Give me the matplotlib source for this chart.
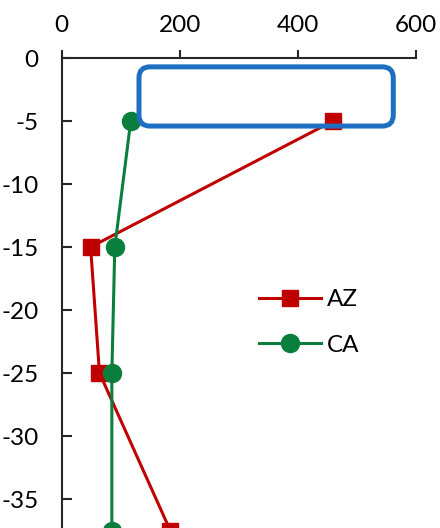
import matplotlib
matplotlib.use("Agg")
import matplotlib.pyplot as plt
from matplotlib.patches import FancyBboxPatch
from matplotlib.transforms import IdentityTransform

plt.rcParams['font.family'] = ['Lato', 'DejaVu Sans']

# Depth profiles (depth in cm, negative downward)
depth = [-5, -15, -25, -37.5]
az_values = [460, 49, 64, 184]
ca_values = [117, 90, 85, 85]

x_ticks = [0, 200, 400, 600]
y_ticks = [0, -5, -10, -15, -20, -25, -30, -35]
y_tick_labels = ['0', '-5', '-10', '-15', '-20', '-25', '-30', '-35']

RED = '#c00000'
GREEN = '#0a7f3d'
BLUE = '#1f6fc1'
AXIS = '#262626'
FS = 17.5

W, H = 440, 528
fig = plt.figure(figsize=(W / 100, H / 100), dpi=100)
ax = fig.add_axes([61.7 / W, -0.0644, 354 / W, 0.9545])

ax.plot(az_values, depth, color=RED, lw=2.2, marker='s', ms=12,
        mec=RED, mfc=RED, label='AZ', clip_on=False, zorder=3)
ax.plot(ca_values, depth, color=GREEN, lw=2.2, marker='o', ms=13,
        mec=GREEN, mfc=GREEN, label='CA', clip_on=False, zorder=3)

ax.set_xlim(0, 600)
ax.set_ylim(-40, 0)
ax.xaxis.tick_top()
ax.set_xticks(x_ticks)
ax.set_yticks(y_ticks)
ax.set_yticklabels(y_tick_labels)

for side in ('right', 'bottom'):
    ax.spines[side].set_visible(False)
for side in ('left', 'top'):
    ax.spines[side].set_color(AXIS)
    ax.spines[side].set_linewidth(1.5)

ax.tick_params(axis='x', direction='out', length=6, width=1.5, color=AXIS,
               labelsize=FS, pad=10, top=True, bottom=False)
ax.tick_params(axis='y', direction='in', length=7, width=1.5, color=AXIS,
               labelsize=FS, pad=16.5)

leg = fig.legend(loc='center left', bbox_to_anchor=(259 / W, 1 - 322.5 / H),
                 frameon=False, fontsize=FS, handlelength=2.55,
                 handletextpad=0.25, labelspacing=1.0, borderpad=0,
                 borderaxespad=0)

# Highlight box around the near-surface region
fig.canvas.draw()
(x0, y0) = ax.transData.transform((131, -0.7))
(x1, y1) = ax.transData.transform((562, -5.4))
box = FancyBboxPatch((x0, y1), x1 - x0, y0 - y1,
                     boxstyle='round,pad=0,rounding_size=11',
                     transform=IdentityTransform(), fill=False,
                     edgecolor=BLUE, linewidth=3.6, zorder=5)
fig.patches.append(box)

fig.savefig('out.png', dpi=100, facecolor='white')
